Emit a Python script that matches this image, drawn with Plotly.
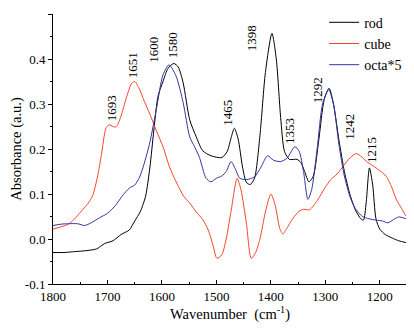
import plotly.graph_objects as go

# ---- data ----
rod_w = [1800, 1780, 1760, 1740, 1720, 1705, 1690, 1675, 1660, 1650, 1640, 1630, 1622, 1615, 1607,
         1598, 1589, 1578, 1570, 1561, 1549, 1537, 1525, 1510, 1490, 1480, 1473, 1467, 1460, 1452,
         1445, 1438, 1430, 1420, 1410, 1398, 1390, 1382, 1375, 1366, 1352, 1345, 1338, 1330, 1322,
         1312, 1302, 1293, 1285, 1275, 1265, 1255, 1245, 1235, 1230, 1225, 1219, 1213, 1207, 1200,
         1190, 1177, 1165, 1152]
rod_v = [-0.030, -0.030, -0.028, -0.026, -0.022, -0.010, -0.004, 0.010, 0.020, 0.040, 0.060, 0.095,
         0.160, 0.240, 0.318, 0.350, 0.379, 0.390, 0.382, 0.347, 0.265, 0.227, 0.196, 0.185, 0.181,
         0.195, 0.225, 0.246, 0.222, 0.160, 0.126, 0.121, 0.135, 0.230, 0.370, 0.457, 0.400, 0.270,
         0.195, 0.177, 0.177, 0.170, 0.150, 0.127, 0.140, 0.220, 0.310, 0.335, 0.300, 0.220, 0.150,
         0.100, 0.065, 0.045, 0.042, 0.080, 0.158, 0.120, 0.045, 0.022, 0.010, 0.002, -0.004, -0.008]

cube_w = [1800, 1785, 1770, 1758, 1745, 1735, 1727, 1718, 1711, 1703, 1697, 1690, 1684, 1676, 1665,
          1656, 1650, 1642, 1632, 1623, 1610, 1598, 1586, 1575, 1560, 1549, 1537, 1525, 1515, 1506,
          1499, 1490, 1482, 1472, 1462, 1455, 1445, 1436, 1428, 1420, 1410, 1400, 1392, 1384, 1378,
          1370, 1360, 1348, 1340, 1329, 1315, 1300, 1290, 1278, 1265, 1255, 1243, 1233, 1222, 1213,
          1200, 1188, 1178, 1170, 1160, 1152]
cube_v = [0.022, 0.027, 0.034, 0.048, 0.066, 0.080, 0.097, 0.140, 0.188, 0.245, 0.254, 0.250, 0.249,
          0.270, 0.315, 0.345, 0.350, 0.335, 0.305, 0.280, 0.240, 0.205, 0.160, 0.130, 0.095, 0.080,
          0.060, 0.043, 0.020, -0.015, -0.043, -0.035, 0.000, 0.070, 0.135, 0.110, 0.036, -0.043,
          -0.030, 0.000, 0.060, 0.100, 0.075, 0.025, 0.011, 0.025, 0.045, 0.062, 0.066, 0.065, 0.085,
          0.115, 0.132, 0.145, 0.165, 0.180, 0.190, 0.182, 0.170, 0.163, 0.152, 0.139, 0.115, 0.089,
          0.068, 0.051]

octa_w = [1800, 1785, 1770, 1755, 1742, 1730, 1715, 1700, 1685, 1672, 1660, 1650, 1642, 1635, 1623,
          1610, 1598, 1587, 1574, 1561, 1549, 1540, 1531, 1519, 1510, 1500, 1490, 1482, 1473, 1465,
          1457, 1445, 1430, 1418, 1406, 1395, 1382, 1370, 1356, 1348, 1340, 1332, 1325, 1315, 1305,
          1294, 1285, 1275, 1265, 1255, 1245, 1232, 1220, 1207, 1195, 1185, 1175, 1165, 1152]
octa_v = [0.030, 0.033, 0.034, 0.034, 0.030, 0.036, 0.047, 0.057, 0.075, 0.097, 0.113, 0.120, 0.135,
          0.158, 0.210, 0.290, 0.365, 0.387, 0.362, 0.303, 0.227, 0.205, 0.181, 0.135, 0.127, 0.135,
          0.140, 0.150, 0.172, 0.155, 0.135, 0.132, 0.138, 0.160, 0.185, 0.175, 0.172, 0.180, 0.205,
          0.195, 0.150, 0.088, 0.110, 0.200, 0.300, 0.332, 0.300, 0.210, 0.140, 0.095, 0.068, 0.050,
          0.045, 0.042, 0.040, 0.036, 0.043, 0.049, 0.045]

peak_labels = ["1693", "1651", "1600", "1580", "1465", "1398", "1353", "1292", "1242", "1215"]
label_x = [1693, 1654, 1617, 1580, 1481, 1434, 1366, 1314, 1256, 1214]
label_y = [0.291, 0.385, 0.420, 0.430, 0.280, 0.447, 0.241, 0.330, 0.250, 0.198]

y_ticks = [-0.1, 0.0, 0.1, 0.2, 0.3, 0.4, 0.5]
x_ticks = [1800, 1700, 1600, 1500, 1400, 1300, 1200]

FONT = "Liberation Serif"
RED = "#F5442A"
BLUE = "#3434A0"

fig = go.Figure()
for name, w, v, c in [("rod", rod_w, rod_v, "black"),
                      ("cube", cube_w, cube_v, RED),
                      ("octa*5", octa_w, octa_v, BLUE)]:
    fig.add_trace(go.Scatter(x=w, y=v, mode="lines", name=name,
                             line=dict(color=c, width=1, shape="spline", smoothing=0.7)))

for t, x, y in zip(peak_labels, label_x, label_y):
    fig.add_annotation(x=x, y=y, xref="x", yref="y", text=t, showarrow=False,
                       textangle=-90, font=dict(family=FONT, size=13, color="black"))

# page body has an 8px margin, so the figure is sized/offset to compensate
fig.update_layout(
    width=406, height=323,
    margin=dict(l=45, r=7, t=6, b=47, autoexpand=False),
    paper_bgcolor="white", plot_bgcolor="white",
    font=dict(family=FONT, size=13, color="black"),
    showlegend=True,
    legend=dict(x=0.766, y=0.89, xanchor="left", yanchor="middle",
                bgcolor="rgba(0,0,0,0)", font=dict(family=FONT, size=14),
                tracegroupgap=0, itemwidth=30),
)
fig.update_xaxes(
    range=[1800, 1150], autorange=False, automargin=False,
    tickvals=x_ticks, ticktext=[str(t) for t in x_ticks],
    ticks="inside", ticklen=4, tickcolor="black", tickwidth=1,
    minor=dict(ticks="inside", ticklen=2, dtick=50, tick0=1800, tickcolor="black"),
    showline=True, linecolor="black", linewidth=1, mirror=False,
    showgrid=False, zeroline=False,
    tickfont=dict(family=FONT, size=13),
    title=dict(text="Wavenumber  (cm<sup>-1</sup>)", font=dict(family=FONT, size=14.5), standoff=4),
)
fig.update_yaxes(
    range=[-0.1, 0.5], autorange=False, automargin=False,
    tickvals=y_ticks, ticktext=[f"{t:.1f}" for t in y_ticks],
    ticks="outside", ticklen=4, tickcolor="black", tickwidth=1,
    minor=dict(ticks="outside", ticklen=2, dtick=0.05, tick0=0, tickcolor="black"),
    showline=True, linecolor="black", linewidth=1, mirror=False,
    showgrid=False, zeroline=False,
    tickfont=dict(family=FONT, size=13),
    title=dict(text="Absorbance (a.u.)", font=dict(family=FONT, size=14.5), standoff=6),
)

fig.write_html("out.html")
